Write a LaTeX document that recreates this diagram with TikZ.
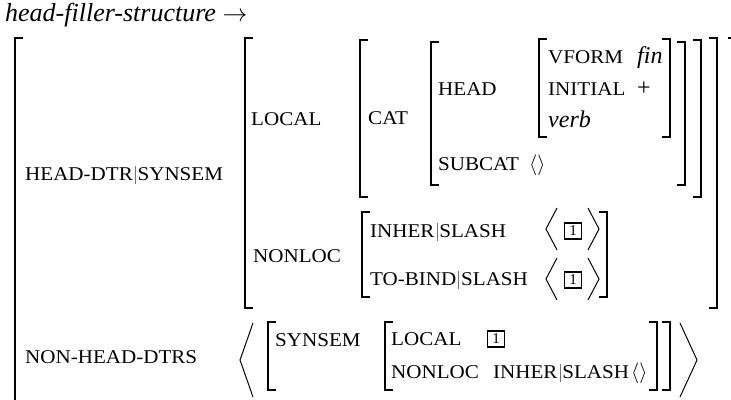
\documentclass[tikz,border=0pt]{standalone}
\usepackage{fontspec}
\setmainfont{Liberation Serif}
\newfontfamily\scf[FakeStretch=1.08]{Liberation Serif}
\definecolor{barcol}{gray}{0.45}
\newcommand{\smc}[1]{{\scf\fontsize{19.5}{20}\selectfont #1}}
\newcommand{\pbar}{\hspace{2pt}{\color{barcol}\rule[-4pt]{0.8pt}{18.5pt}}\hspace{2pt}}
\newcommand{\lbrk}[3]{\draw[brk] (#1+8,#2) -- (#1,#2) -- (#1,#3) -- (#1+8,#3);}
\newcommand{\rbrk}[3]{\draw[brk] (#1-8,#2) -- (#1,#2) -- (#1,#3) -- (#1-8,#3);}
\tikzset{
  lbl/.style={anchor=base west, inner sep=0pt, font=\fontsize{24}{28}\selectfont},
  ttl/.style={anchor=base west, inner sep=0pt, text height=17pt, text depth=5pt, font=\fontsize{26}{28}\selectfont},
  brk/.style={line width=1.5pt, line cap=butt, line join=miter},
  ang/.style={line width=1pt, line join=miter},
  tagb/.style={draw, line width=1.3pt, minimum width=17pt, minimum height=16pt, inner sep=0pt, font=\fontsize{15}{15}\selectfont},
  emp/.style={anchor=base west, inner sep=0pt, font=\fontsize{21}{24}\selectfont}
}
\begin{document}
\begin{tikzpicture}[x=1pt,y=-1pt]
\useasboundingbox (0,0) rectangle (731,399);
\clip (0,0) rectangle (731,399);
% title
\node[ttl] (title) at (5,21) {\textit{head-filler-structure} $\rightarrow$};
% outer matrix
\lbrk{15}{38}{420}
\rbrk{736}{38}{420}
\node[lbl] (hds) at (25,180) {\smc{HEAD-DTR\pbar SYNSEM}};
% synsem value
\lbrk{245}{38}{308}
\rbrk{717}{38}{308}
\node[lbl] (loc) at (251,125) {\smc{LOCAL}};
% local value
\lbrk{360}{40}{197}
\rbrk{701}{40}{197}
\node[lbl] (cat) at (368,124) {\smc{CAT}};
% cat value
\lbrk{431}{42}{185}
\rbrk{685}{42}{185}
\node[lbl] (head) at (438,95) {\smc{HEAD}};
% head value
\lbrk{539}{39}{137}
\rbrk{670}{39}{137}
\node[lbl] (vform) at (548,63) {\smc{VFORM}};
\node[lbl] (fin) at (637,63) {\textit{fin}};
\node[lbl] (init) at (548,95) {\smc{INITIAL}};
\node[lbl] (plus) at (637,95) {+};
\node[lbl] (verb) at (548,127) {\textit{verb}};
\node[lbl] (subcat) at (438,170) {\smc{SUBCAT}};
\node[emp] (sclist) at (529,170) {$\langle\rangle$};
% nonloc
\node[lbl] (nonloc) at (253,262) {\smc{NONLOC}};
\lbrk{362}{212}{297}
\rbrk{607}{212}{297}
\node[lbl] (inher) at (370,237) {\smc{INHER\pbar SLASH}};
\node[lbl] (tobind) at (370,285) {\smc{TO-BIND\pbar SLASH}};
\coordinate (a1t) at (557,208); \coordinate (a1m) at (546,229); \coordinate (a1b) at (557,250);
\draw[ang] (a1t) -- (a1m) -- (a1b);
\node[tagb] (t1) at (573,231) {1};
\coordinate (b1t) at (588,208); \coordinate (b1m) at (599,229); \coordinate (b1b) at (588,250);
\draw[ang] (b1t) -- (b1m) -- (b1b);
\coordinate (a2t) at (557,258); \coordinate (a2m) at (546,279); \coordinate (a2b) at (557,300);
\draw[ang] (a2t) -- (a2m) -- (a2b);
\node[tagb] (t2) at (573,280) {1};
\coordinate (b2t) at (588,258); \coordinate (b2m) at (599,279); \coordinate (b2b) at (588,300);
\draw[ang] (b2t) -- (b2m) -- (b2b);
% non-head-dtrs
\node[lbl] (nhd) at (25,363) {\smc{NON-HEAD-DTRS}};
\coordinate (la) at (253,323); \coordinate (lm) at (240,360); \coordinate (lb) at (253,397);
\draw[ang] (la) -- (lm) -- (lb);
\lbrk{268}{322}{390}
\rbrk{670}{322}{390}
\node[lbl] (syn) at (275,346) {\smc{SYNSEM}};
\lbrk{385}{322}{390}
\rbrk{657}{322}{390}
\node[lbl] (loc2) at (391,345) {\smc{LOCAL}};
\node[tagb] (t3) at (496,339) {1};
\node[lbl] (nonloc2) at (391,378) {\smc{NONLOC}};
\node[lbl] (inher2) at (493,378) {\smc{INHER\pbar SLASH}};
\node[emp] (nllist) at (631,378) {$\langle\rangle$};
\coordinate (ra) at (680,323); \coordinate (rm) at (697,360); \coordinate (rb) at (680,397);
\draw[ang] (ra) -- (rm) -- (rb);
\end{tikzpicture}
\end{document}
